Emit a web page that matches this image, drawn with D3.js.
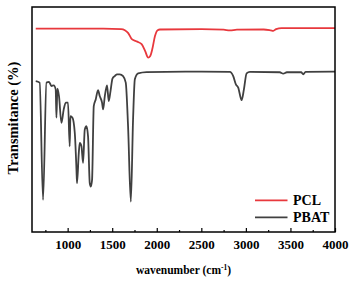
<!DOCTYPE html>
<html><head><meta charset="utf-8">
<script src="https://cdn.jsdelivr.net/npm/d3@7"></script>
<style>body{margin:0;background:#fff}svg{display:block}text{font-family:"Liberation Serif","Times New Roman",serif;font-weight:bold}</style>
</head><body><div id="chart"></div>
<script>
const seriesNames = ["PCL", "PBAT"];
const seriesColors = ["#e8383d", "#404040"];
const xTicks = [1000, 1500, 2000, 2500, 3000, 3500, 4000];
const xMinorTicks = [750, 1250, 1750, 2250, 2750, 3250, 3750];
const pclWave = [642,1400,1600,1642,1680,1720,1780,1830,1870,1904,1925,1950,1980,2010,2035,2500,2750,2821,2900,3200,3280,3308,3340,3400,4000];
const pclT =    [90.4,90.4,90.2,89.7,88.4,85.7,84.6,83.5,80.4,77.5,78.1,81.3,87.1,89.7,90.0,90.2,89.9,89.6,89.9,90.0,89.6,89.4,90.2,90.6,90.6];
const pbatWave = [642,686,724,762,791,818,844,866,874,885,903,930,956,979,1004,1023,1031,1054,1080,1099,1105,1125,1136,1155,1173,1192,1211,1229,1248,1259,1274,1293,1315,1341,1360,1386,1398,1417,1442,1461,1481,1503,1529,1555,1585,1622,1652,1678,1709,1734,1754,1791,1885,2500,2821,2858,2888,2914,2952,2978,3008,3045,3380,3419,3460,3620,3644,3670,4000];
const pbatT =    [67.1,66.4,14.3,66.4,66.7,64.9,65.2,63.4,50.8,63.7,60.4,48.5,54.5,57.5,57.5,38.1,51.5,50.8,44.1,27.7,21.7,35.1,39.6,38.1,30.7,45.5,47.0,42.5,21.7,20.2,23.2,55.9,58.9,63.1,60.4,57.5,54.5,60.4,65.2,58.2,62.6,68.2,69.3,70.1,70.1,69.3,66.4,47.0,13.5,50.0,67.9,70.5,71.1,71.3,71.2,69.3,65.6,64.2,58.6,63.4,70.5,71.2,71.0,70.4,71.0,71.0,70.1,71.2,71.3];

const W = 352, H = 281;
const m = {left: 32, right: 335, top: 7, bottom: 232};
const svg = d3.select("#chart").append("svg").attr("width", W).attr("height", H);
const x = d3.scaleLinear().domain([600, 4000]).range([m.left, m.right]);
const y = d3.scaleLinear().domain([0, 100]).range([m.bottom, m.top]);

const data = [
  pclWave.map((w, i) => [w, pclT[i]]),
  pbatWave.map((w, i) => [w, pbatT[i]])
];
const line = d3.line().x(d => x(d[0])).y(d => y(d[1])).curve(d3.curveMonotoneX);
data.forEach((d, i) => {
  svg.append("path").datum(d).attr("d", line).attr("fill", "none")
    .attr("stroke", seriesColors[i]).attr("stroke-width", 1.8);
});

// frame
svg.append("rect").attr("x", m.left).attr("y", m.top).attr("width", m.right - m.left)
  .attr("height", m.bottom - m.top).attr("fill", "none").attr("stroke", "#000").attr("stroke-width", 1.5);

// bottom axis
const ax = svg.append("g").attr("transform", `translate(0,${m.bottom})`)
  .call(d3.axisBottom(x).tickValues(xTicks).tickSize(-4).tickPadding(8).tickFormat(d3.format("d")));
ax.select(".domain").remove();
ax.selectAll(".tick line").attr("stroke", "#000").attr("stroke-width", 1.2);
ax.selectAll("text").attr("font-size", 13).attr("fill", "#000");
const axm = svg.append("g").attr("transform", `translate(0,${m.bottom})`)
  .call(d3.axisBottom(x).tickValues(xMinorTicks).tickSize(-2).tickFormat(""));
axm.select(".domain").remove();
axm.selectAll(".tick line").attr("stroke", "#000").attr("stroke-width", 1.2);

// titles
const xt = svg.append("text").attr("x", (m.left + m.right) / 2).attr("y", 274)
  .attr("text-anchor", "middle").attr("font-size", 11.5);
xt.append("tspan").text("wavenumber (cm");
xt.append("tspan").text("-1").attr("font-size", 7.5).attr("dy", -4);
xt.append("tspan").text(")").attr("dy", 4);
svg.append("text").attr("transform", "translate(18,118) rotate(-90)")
  .attr("text-anchor", "middle").attr("font-size", 14.5).text("Transmitance (%)");

// legend
const legY = [200.3, 217.3];
seriesNames.forEach((n, i) => {
  svg.append("line").attr("x1", 255).attr("x2", 287.5).attr("y1", legY[i]).attr("y2", legY[i])
    .attr("stroke", seriesColors[i]).attr("stroke-width", 1.8);
  svg.append("text").attr("x", 293).attr("y", legY[i] + 5).attr("font-size", 14).text(n);
});
</script></body></html>
